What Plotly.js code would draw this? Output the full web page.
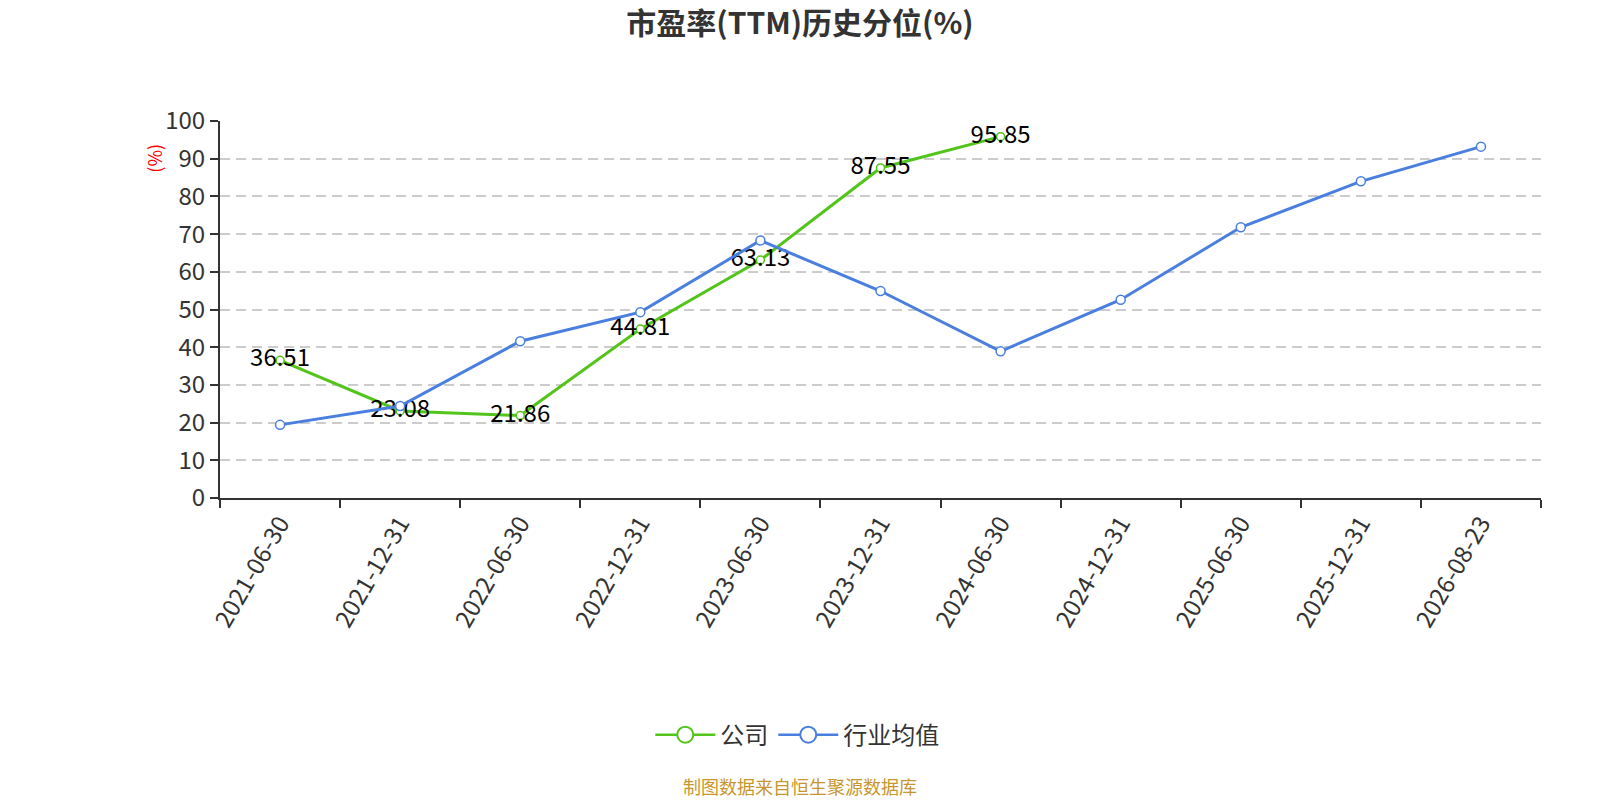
<!DOCTYPE html>
<html>
<head>
<meta charset="utf-8">
<script src="https://cdn.plot.ly/plotly-3.0.1.min.js"></script>
<style>body{margin:0;background:#fff}#plot{width:1600px;height:800px}</style>
</head>
<body>
<div id="plot"></div>
<script>
// Categories and values
let dates = ["2021-06-30", "2021-12-31", "2022-06-30", "2022-12-31", "2023-06-30", "2023-12-31",
  "2024-06-30", "2024-12-31", "2025-06-30", "2025-12-31", "2026-08-23"]
let companyValues = [36.51, 23.08, 21.86, 44.81, 63.13, 87.55, 95.85, null, null, null, null]
let industryValues = [19.4, 24.4, 41.6, 49.3, 68.3, 54.9, 38.9, 52.6, 71.8, 84.0, 93.2]
let companyLabels = companyValues.map(v => v == null ? "" : v.toFixed(2))
let seriesNames = ["公司", "行业均值"]

let green = "#52c41a"
let blue = "#4a7fe0"

// Company series with value labels
let trace1 = {
  x: dates,
  y: companyValues,
  text: companyLabels,
  name: seriesNames[0],
  type: "scatter",
  mode: "lines+markers+text",
  textposition: "middle center",
  textfont: {size: 24, color: "#000", family: "Noto Sans CJK SC, sans-serif"},
  line: {color: green, width: 3},
  marker: {symbol: "circle", size: 8, color: "#fff", line: {color: green, width: 1.5}},
  cliponaxis: false,
  showlegend: false,
}

// Industry average series
let trace2 = {
  x: dates,
  y: industryValues,
  name: seriesNames[1],
  type: "scatter",
  mode: "lines+markers",
  line: {color: blue, width: 3},
  marker: {symbol: "circle", size: 9, color: "#fff", line: {color: blue, width: 1.5}},
  cliponaxis: false,
  showlegend: false,
}

// legend entries only (no data, bigger symbols like the reference legend)
let legendTraces = [green, blue].map((c, i) => ({
  x: [null],
  y: [null],
  name: seriesNames[i],
  type: "scatter",
  mode: "lines+markers",
  line: {color: c, width: 2.5},
  marker: {symbol: "circle", size: 16, color: "#fff", line: {color: c, width: 2}},
}))

let layout = {
  width: 1600,
  height: 800,
  paper_bgcolor: "#fff",
  plot_bgcolor: "#fff",
  font: {family: "Noto Sans CJK SC, sans-serif", color: "#333"},
  title: {text: "<b>市盈率(TTM)历史分位(%)</b>", x: 0.5, xanchor: "center", y: 0.971, yanchor: "middle",
    font: {size: 30, color: "#333"}},
  margin: {l: 220, r: 59, t: 121, b: 302},
  showlegend: true,
  legend: {orientation: "h", x: 0.437, xanchor: "center", y: -0.629, yanchor: "middle",
    font: {size: 24, color: "#333"}, itemwidth: 60},
  xaxis: {
    type: "category",
    tickson: "boundaries",
    ticks: "outside",
    ticklen: 8,
    tickcolor: "#333",
    tickwidth: 2,
    showline: true,
    linecolor: "#333",
    linewidth: 2,
    showgrid: false,
    tickangle: -60,
    tickfont: {size: 24, color: "#333"},
    range: [-0.5, 10.5],
  },
  yaxis: {
    range: [0, 100],
    dtick: 10,
    ticks: "outside",
    ticklen: 8,
    tickcolor: "#333",
    tickwidth: 2,
    showline: true,
    linecolor: "#333",
    linewidth: 2,
    gridcolor: "#ccc",
    gridwidth: 1.5,
    griddash: "10px,6px",
    zeroline: false,
    tickfont: {size: 24, color: "#333"},
  },
  annotations: [
    {text: "(%)", xref: "paper", yref: "paper", x: -0.061, y: 0.945, textangle: -90,
      showarrow: false, font: {size: 18, color: "red"}},
    {text: "制图数据来自恒生聚源数据库", xref: "paper", yref: "paper", x: 0.439, y: -0.765,
      xanchor: "center", yanchor: "middle", showarrow: false, font: {size: 18, color: "#c8962e"}},
  ],
}

Plotly.newPlot("plot", [trace1, trace2].concat(legendTraces), layout, {displayModeBar: false})
</script>
</body>
</html>
